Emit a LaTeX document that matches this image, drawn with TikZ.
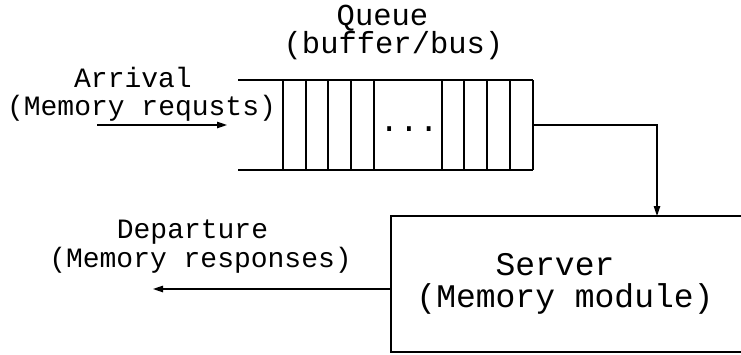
\documentclass[tikz,border=0pt]{standalone}
\usepackage{fontspec}
\setmonofont{Liberation Mono}
\usetikzlibrary{arrows.meta,calc}
\begin{document}
\begin{tikzpicture}[x=1pt,y=-1pt,line width=1.2pt,
  arr/.style={-{Triangle[length=10pt,width=6.5pt]}},
  lblA/.style={font=\ttfamily\fontsize{28}{30}\selectfont,anchor=base,inner sep=0pt},
  lblB/.style={font=\ttfamily\fontsize{33}{35}\selectfont,anchor=base,inner sep=0pt},
  lblQ/.style={font=\ttfamily\fontsize{30.5}{32}\selectfont,anchor=base,inner sep=0pt},
  qline/.style={line width=1.2pt}]
\useasboundingbox (0,0) rectangle (741,354);
% queue
\node[minimum width=250pt,minimum height=90pt,inner sep=0pt] (queue) at (408,125) {};
\draw[qline] (238,80) -- (533,80);
\draw[qline] (238,170) -- (533,170);
\foreach \x in {283,306,328,351,374,442,464,487,510,533}
  \draw[qline] (\x,80) -- (\x,170);
\node[lblB] (dots) at (409,131) {...};
\node[lblQ] (qt1) at (382.5,25) {Queue};
\node[lblQ] (qt2) at (393.5,53) {(buffer/bus)};
% arrival
\node[lblA] (at1) at (133,87) {Arrival};
\node[lblA] (at2) at (141.5,115) {(Memory requsts)};
\coordinate (arrin) at (97,125);
\coordinate (arrtip) at (227,125);
\draw[arr] (arrin) -- (arrtip);
% server
\node[draw,minimum width=400pt,minimum height=136pt,inner sep=0pt] (server) at (591,284) {};
\node[lblB] (st1) at (555,275) {Server};
\node[lblB] (st2) at (565,307) {(Memory module)};
\coordinate (drop) at (657,216);
\draw[arr] (queue.east) -| (drop);
% departure
\node[lblA] (dt1) at (192.5,238) {Departure};
\node[lblA] (dt2) at (200.5,267) {(Memory responses)};
\coordinate (deptip) at (153,289);
\draw[arr] (server.west |- 0,289) -- (deptip);
\end{tikzpicture}
\end{document}
